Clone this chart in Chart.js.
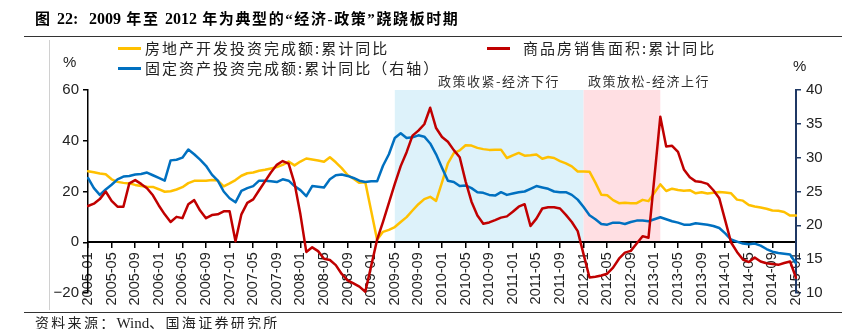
<!DOCTYPE html>
<html>
<head>
<meta charset="utf-8">
<script src="https://cdn.jsdelivr.net/npm/chart.js@4/dist/chart.umd.min.js"></script>
<style>
  html, body { margin: 0; padding: 0; background: #fff; }
  #wrap { position: relative; width: 842px; height: 329px; overflow: hidden; }
  #chart { position: absolute; left: 0; top: 0; }
  .txt { position: absolute; white-space: nowrap; color: #222; font-family: "Noto Sans CJK SC", sans-serif; }
  .title { left: 35px; top: 7px; font-size: 15px; font-weight: 700; letter-spacing: 1.6px; font-family: "Liberation Serif", "Noto Sans CJK SC", serif; color: #000; }
  .title .lat { letter-spacing: 0; font-size: 16px; }
  .legend { font-size: 15px; line-height: 16px; letter-spacing: 2px; }
  .swatch { position: absolute; width: 23px; height: 3px; }
  .pct { font-family: "Liberation Sans", Arial, sans-serif; font-size: 15px; color: #222; }
  .note { font-size: 13px; line-height: 15px; letter-spacing: 1.5px; color: #333; }
  .src { font-size: 14px; line-height: 15px; letter-spacing: 2.3px; color: #222; }
  .src .lat { letter-spacing: 0; font-family: "Liberation Serif", serif; font-size: 15px; }
  .rule { position: absolute; background: #333; }
</style>
</head>
<body>
<div id="wrap">
  <canvas id="chart" width="842" height="329"></canvas>
  <div class="txt title">图 <span class="lat">22:</span>&nbsp; <span class="lat">2009</span> 年至 <span class="lat">2012</span> 年为典型的“经济-政策”跷跷板时期</div>
  <div class="rule" style="left:24px; top:36px; width:818px; height:1px;"></div>
  <div class="rule" style="left:49px; top:40px; width:1px; height:270px; background:#d0d0d0;"></div>
  <div class="rule" style="left:24px; top:312px; width:818px; height:1px;"></div>

  <div class="swatch" style="left:118px; top:47px; background:#FFC000;"></div>
  <div class="txt legend" style="left:145px; top:40px;">房地产开发投资完成额:累计同比</div>
  <div class="swatch" style="left:487px; top:47px; background:#C00000;"></div>
  <div class="txt legend" style="left:523px; top:40px;">商品房销售面积:累计同比</div>
  <div class="swatch" style="left:118px; top:67px; background:#0070C0;"></div>
  <div class="txt legend" style="left:145px; top:60px;">固定资产投资完成额:累计同比（右轴）</div>

  <div class="txt pct" style="left:63px; top:53px;">%</div>
  <div class="txt pct" style="left:793px; top:57px;">%</div>

  <div class="txt note" style="left:438px; top:73px;">政策收紧-经济下行</div>
  <div class="txt note" style="left:588px; top:73px;">政策放松-经济上行</div>

  <div class="txt src" style="left:35px; top:315px;">资料来源：<span class="lat">Wind</span>、国海证券研究所</div>
</div>
<script>
// ---------- DATA ----------
// months 2005-01 .. 2015-01
const months = [];
for (let y = 2005; y <= 2015; y++) {
    for (let m = 1; m <= 12; m++) {
        if (y === 2015 && m > 1) break;
        months.push(y + '-' + String(m).padStart(2, '0'));
    }
}

// 房地产开发投资完成额:累计同比 (%, left axis)
const reInvest = [
    28.0, 27.6, 27.1, 26.8, 24.8, 23.8, 23.4, 23.2, 22.6, 22.2, 21.9, 21.8,
    20.9, 19.9, 20.1, 20.8, 21.7, 23.3, 24.2, 24.2, 24.2, 24.5, 24.3, 22.0,
    23.2, 24.5, 26.2, 27.2, 27.5, 28.2, 28.6, 29.1, 29.6, 30.5, 31.8, 30.3,
    31.8, 33.0, 32.6, 32.2, 31.7, 33.5, 31.5, 29.2, 26.5, 25.0, 23.4, 23.6,
    12.3, 1.0, 4.1, 4.9, 6.0, 8.0, 9.9, 12.5, 15.0, 17.0, 17.9, 16.3,
    23.6, 31.1, 35.1, 36.2, 38.2, 38.1, 37.2, 36.7, 36.4, 36.5, 36.5, 33.2,
    34.2, 35.2, 34.1, 34.3, 34.6, 32.9, 33.6, 33.2, 32.0, 31.1, 29.9, 27.9,
    27.9, 27.8, 23.5, 18.7, 18.5, 16.6, 15.4, 15.6, 15.4, 15.4, 16.7, 16.2,
    19.5, 22.8, 20.2, 21.1, 20.6, 20.3, 20.5, 19.3, 19.7, 19.2, 19.5, 19.8,
    19.6, 19.3, 16.8, 16.4, 14.7, 14.1, 13.7, 13.2, 12.5, 12.4, 11.9, 10.5,
    10.5
];

// 商品房销售面积:累计同比 (%, left axis)
const salesArea = [
    14.3, 15.2, 17.0, 20.0, 16.3, 14.0, 14.0, 23.2, 24.5, 23.0, 21.3, 18.5,
    14.5, 11.0, 8.0, 10.0, 9.5, 15.0, 16.6, 12.5, 9.5, 10.7, 11.0, 12.2,
    12.2, 0.4, 11.0, 15.5, 16.9, 20.5, 24.0, 27.5, 30.5, 32.0, 31.0, 23.3,
    11.0, -3.8, -2.0, -3.5, -6.5, -7.0, -9.0, -12.5, -15.0, -16.2, -17.5, -19.5,
    -9.3, 1.0, 8.0, 15.5, 23.0, 30.0, 35.5, 42.0, 44.0, 46.5, 53.0, 45.0,
    41.5, 39.6, 36.3, 33.5, 24.0, 16.0, 10.5, 7.3, 7.8, 8.7, 9.7, 10.2,
    12.0, 14.0, 15.0, 6.4, 9.3, 13.3, 13.8, 13.8, 13.3, 10.8, 8.0, 4.4,
    -4.8, -13.9, -13.6, -13.1, -12.4, -10.0, -6.5, -4.1, -3.4, -0.5, 2.4, 1.8,
    25.6, 49.5, 37.7, 38.0, 35.6, 28.7, 25.6, 24.0, 23.7, 23.0, 20.5, 17.3,
    8.6, -0.1, -3.8, -6.8, -7.8, -6.0, -7.6, -8.3, -8.6, -8.9, -8.2, -7.6,
    -14.0
];

// 固定资产投资完成额:累计同比 (%, right axis)
const fixedInvest = [
    27.0, 25.5, 24.5, 25.3, 26.0, 26.8, 27.2, 27.3, 27.5, 27.6, 27.8, 27.4,
    27.0, 26.6, 29.6, 29.7, 30.0, 31.2, 30.5, 29.7, 28.8, 27.5, 26.6, 25.0,
    24.0, 23.4, 25.1, 25.5, 25.8, 26.6, 26.6, 26.5, 26.4, 26.8, 26.6, 25.8,
    25.2, 24.3, 25.8, 25.7, 25.6, 26.8, 27.4, 27.5, 27.3, 27.0, 26.6, 26.4,
    26.5, 26.5, 28.8, 30.5, 32.9, 33.6, 32.9, 33.0, 33.3, 33.1, 32.1, 30.5,
    28.5, 26.6, 26.4, 25.8, 25.9, 25.5, 24.9, 24.8, 24.5, 24.4, 24.9, 24.5,
    24.7, 24.9, 25.0, 25.4, 25.8, 25.6, 25.4, 25.0, 24.9, 24.9, 24.5, 23.8,
    22.7, 21.5, 20.9, 20.2, 20.1, 20.4, 20.4, 20.2, 20.5, 20.7, 20.7, 20.6,
    20.9, 21.2, 20.9, 20.6, 20.4, 20.1, 20.1, 20.3, 20.2, 20.1, 19.9, 19.6,
    18.8, 17.9, 17.6, 17.3, 17.2, 17.3, 17.0, 16.5, 16.1, 15.9, 15.8, 15.7,
    14.4
];

// policy phases (shaded periods)
const phaseStart = ['2009-05', '2012-01'];
const phaseEnd = ['2012-01', '2013-02'];

// ---------- PLUGINS ----------
const phaseColors = ['#DDF2FA', '#FFDFE3'];
const phaseBands = {
    id: 'phaseBands',
    beforeDraw(chart) {
        const { ctx, scales: { x, y } } = chart;
        ctx.save();
        phaseStart.forEach((s, i) => {
            const x0 = x.getPixelForValue(months.indexOf(s));
            const x1 = x.getPixelForValue(months.indexOf(phaseEnd[i]));
            const yTop = y.getPixelForValue(60);
            const yBot = y.getPixelForValue(0);
            ctx.fillStyle = phaseColors[i];
            ctx.fillRect(x0, yTop, x1 - x0, yBot - yTop);
        });
        ctx.restore();
    }
};

// ---------- CHART ----------
const tickFont = { family: '"Liberation Sans", Arial, sans-serif', size: 14.5 };

new Chart(document.getElementById('chart'), {
    type: 'line',
    data: {
        labels: months,
        datasets: [
            { label: '商品房销售面积:累计同比', data: salesArea, borderColor: '#C00000', yAxisID: 'y', order: 0 },
            { label: '固定资产投资完成额:累计同比（右轴）', data: fixedInvest, borderColor: '#0070C0', yAxisID: 'y1', order: 1 },
            { label: '房地产开发投资完成额:累计同比', data: reInvest, borderColor: '#FFC000', yAxisID: 'y', order: 2 }
        ]
    },
    options: {
        responsive: false,
        animation: false,
        events: [],
        layout: { padding: { top: 90, bottom: 36, left: 0, right: 0 } },
        elements: {
            line: { borderWidth: 2.5, tension: 0, borderJoinStyle: 'round', borderCapStyle: 'round' },
            point: { radius: 0 }
        },
        plugins: { legend: { display: false }, tooltip: { enabled: false } },
        scales: {
            x: {
                type: 'category',
                position: { y: 0 },
                offset: false,
                afterFit: s => { s.height = 0; },
                grid: {
                    drawOnChartArea: false,
                    tickLength: 5,
                    lineWidth: 1.5,
                    color: c => (c.index % 4 === 0 ? '#000' : 'rgba(0,0,0,0)'),
                    tickColor: c => (c.index % 4 === 0 ? '#000' : 'rgba(0,0,0,0)')
                },
                border: { color: '#000', width: 2 },
                ticks: {
                    autoSkip: false,
                    minRotation: 90,
                    maxRotation: 90,
                    padding: 5,
                    color: '#222',
                    font: tickFont,
                    callback: function (v, i) { return i % 4 === 0 ? this.getLabelForValue(v) : ''; }
                }
            },
            y: {
                position: 'left',
                min: -20,
                max: 60,
                afterFit: s => { s.width = 88; },
                grid: { drawOnChartArea: false, tickLength: 5, color: '#000', lineWidth: 1.5 },
                border: { color: '#000', width: 1.5 },
                ticks: {
                    stepSize: 20,
                    padding: 4,
                    color: '#222',
                    font: { ...tickFont, size: 15 },
                    callback: v => (v < 0 ? '−' + Math.abs(v) : v)
                }
            },
            y1: {
                position: 'right',
                min: 10,
                max: 40,
                afterFit: s => { s.width = 46; },
                grid: { drawOnChartArea: false, tickLength: 5, color: '#1F3864', lineWidth: 1.5 },
                border: { color: '#1F3864', width: 2 },
                ticks: { stepSize: 5, padding: 5, color: '#222', font: { ...tickFont, size: 15 } }
            }
        }
    },
    plugins: [phaseBands]
});
</script>
</body>
</html>
